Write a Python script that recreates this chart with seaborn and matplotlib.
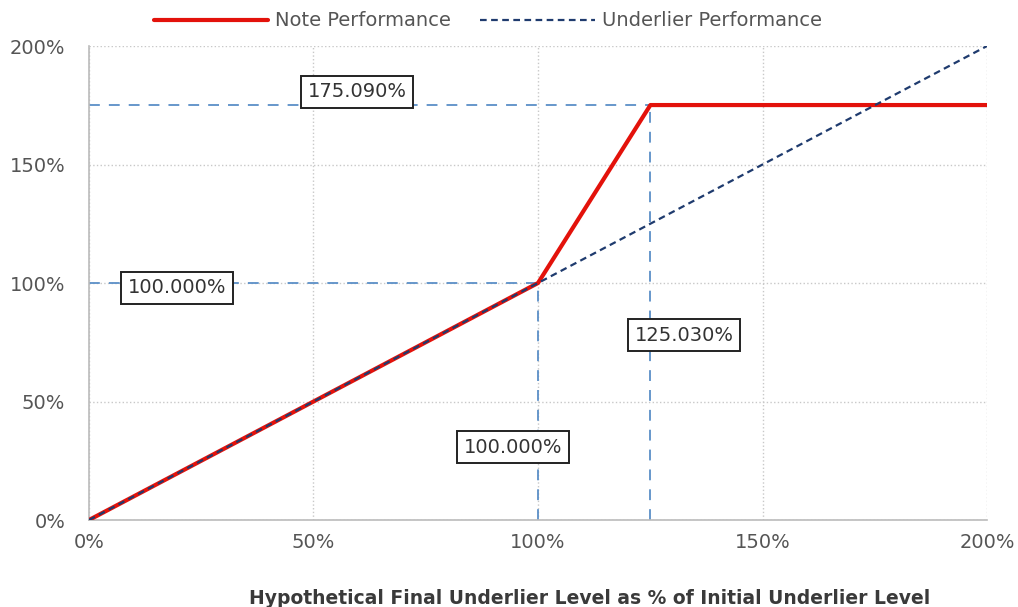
import matplotlib
matplotlib.use("Agg")
import matplotlib.pyplot as plt
import seaborn as sns
import pandas as pd
from matplotlib.ticker import FuncFormatter

# Data
note_x = [0, 100, 125.03, 200]
note_y = [0, 100, 175.09, 175.09]
under_x = [0, 200]
under_y = [0, 200]
ticks = [0, 50, 100, 150, 200]
cap_level = 175.09
cap_x = 125.03
ref_level = 100.0
labels = ["175.090%", "100.000%", "125.030%", "100.000%"]
label_x = [59.7, 19.6, 132.5, 94.4]
label_y = [180.6, 97.9, 78.0, 30.8]

sns.set_theme(style="white")
plt.rcParams['font.family'] = ['DejaVu Sans']

fig = plt.figure(figsize=(10.18, 6.07), dpi=100)
ax = fig.add_axes([0.0874, 0.1433, 0.8822, 0.7809])

ref_color = "#5b8fc7"
ax.plot([0, cap_x], [cap_level, cap_level], color=ref_color, lw=1.3, ls=(0, (6, 5)), zorder=2)
ax.plot([0, ref_level], [ref_level, ref_level], color=ref_color, lw=1.3, ls=(0, (6, 5)), zorder=2)
ax.plot([ref_level, ref_level], [0, ref_level], color=ref_color, lw=1.3, ls=(0, (6, 5)), zorder=2)
ax.plot([cap_x, cap_x], [0, cap_level], color=ref_color, lw=1.3, ls=(0, (6, 5)), zorder=2)

df_note = pd.DataFrame({"x": note_x, "y": note_y})
df_under = pd.DataFrame({"x": under_x, "y": under_y})
sns.lineplot(data=df_note, x="x", y="y", ax=ax, color="#e3120b", lw=3.0,
             label="Note Performance", zorder=3)
sns.lineplot(data=df_under, x="x", y="y", ax=ax, color="#1f3b6e", lw=1.6,
             ls=(0, (3, 2)), label="Underlier Performance", zorder=4)

for t, x, y in zip(labels, label_x, label_y):
    ax.text(x, y, t, ha="center", va="center", fontsize=14, color="#333333",
            bbox=dict(boxstyle="square,pad=0.35", fc="white", ec="#222222", lw=1.4), zorder=5)

ax.set_xlim(0, 200)
ax.set_ylim(0, 200)
ax.set_xticks(ticks)
ax.set_yticks(ticks)
fmt = FuncFormatter(lambda v, p: f"{v:.0f}%")
ax.xaxis.set_major_formatter(fmt)
ax.yaxis.set_major_formatter(fmt)
ax.tick_params(axis="x", labelsize=14, colors="#555555", pad=9, length=0)
ax.tick_params(axis="y", labelsize=14, colors="#555555", pad=17, length=0)

ax.grid(True, color="#c8c8c8", ls=":", lw=1.0)
for s in ["top", "right"]:
    ax.spines[s].set_visible(False)
for s in ["left", "bottom"]:
    ax.spines[s].set_color("#bbbbbb")
    ax.spines[s].set_linewidth(1.2)

ax.set_xlabel("")
ax.set_ylabel("")
fig.text(590 / 1018, 1 - 598 / 607,
         "Hypothetical Final Underlier Level as % of Initial Underlier Level",
         ha="center", va="center", fontsize=13.5, fontweight="bold", color="#3a3a3a")

leg = ax.legend(loc="lower center", bbox_to_anchor=(0.444, 1.0), ncol=2, frameon=False,
                fontsize=14, handlelength=5.9, columnspacing=1.5, handletextpad=0.35,
                labelcolor="#555555", borderaxespad=0.4)

fig.savefig("out.png", dpi=100)
